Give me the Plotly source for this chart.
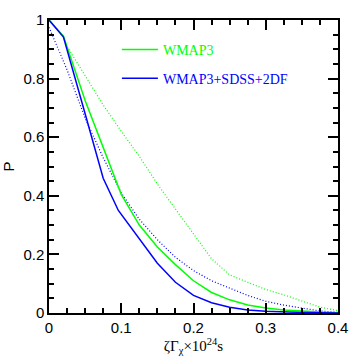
import plotly.graph_objects as go

# zeta*Gamma_chi x 1e24 s
x_green_solid = [0, 0.02, 0.05, 0.075, 0.1, 0.125, 0.15, 0.175, 0.2, 0.225, 0.25, 0.275, 0.3, 0.325, 0.35, 0.375, 0.4]
p_green_solid = [1.0, 0.945, 0.725, 0.565, 0.405, 0.30, 0.225, 0.165, 0.11, 0.07, 0.045, 0.027, 0.017, 0.01, 0.006, 0.003, 0.001]

x_blue_solid = [0, 0.02, 0.05, 0.075, 0.096, 0.125, 0.15, 0.175, 0.2, 0.225, 0.25, 0.275, 0.3, 0.35, 0.4]
p_blue_solid = [1.0, 0.942, 0.68, 0.46, 0.35, 0.255, 0.17, 0.105, 0.06, 0.035, 0.02, 0.01, 0.006, 0.002, 0.0]

x_green_dot = [0, 0.02, 0.025, 0.05, 0.075, 0.1, 0.125, 0.15, 0.175, 0.2, 0.225, 0.25, 0.275, 0.3, 0.325, 0.35, 0.375, 0.4]
p_green_dot = [1.0, 0.945, 0.91, 0.81, 0.71, 0.62, 0.535, 0.44, 0.355, 0.27, 0.185, 0.13, 0.105, 0.08, 0.062, 0.04, 0.02, 0.008]

x_blue_dot = [0, 0.025, 0.05, 0.075, 0.1, 0.125, 0.15, 0.175, 0.2, 0.225, 0.25, 0.275, 0.3, 0.325, 0.35, 0.375, 0.4]
p_blue_dot = [0.975, 0.83, 0.665, 0.53, 0.41, 0.32, 0.25, 0.19, 0.145, 0.11, 0.085, 0.06, 0.04, 0.027, 0.017, 0.007, 0.002]

GREEN = "#00ff00"
BLUE = "#0000ff"

fig = go.Figure()
fig.add_trace(go.Scatter(x=x_green_dot, y=p_green_dot, mode="lines",
                         line=dict(color=GREEN, width=1.2, dash="1px,2px"), showlegend=False))
fig.add_trace(go.Scatter(x=x_blue_dot, y=p_blue_dot, mode="lines",
                         line=dict(color=BLUE, width=1.2, dash="1px,2px"), showlegend=False))
fig.add_trace(go.Scatter(x=x_green_solid, y=p_green_solid, mode="lines",
                         line=dict(color=GREEN, width=1.5),
                         name=f"<span style='color:{GREEN}'>WMAP3</span>", legend="legend"))
fig.add_trace(go.Scatter(x=x_blue_solid, y=p_blue_solid, mode="lines",
                         line=dict(color=BLUE, width=1.5),
                         name=f"<span style='color:{BLUE}'>WMAP3+SDSS+2DF</span>", legend="legend2"))

axis_common = dict(
    showgrid=False, zeroline=False, showline=True, linecolor="black", linewidth=1.5,
    mirror="allticks", ticks="inside", ticklen=10, tickwidth=2, tickcolor="black",
    automargin=False,
    tickfont=dict(family="Liberation Sans", size=15, color="black"),
)

fig.update_xaxes(range=[0, 0.4], dtick=0.1, tickformat="~g",
                 minor=dict(dtick=0.025, ticks="inside", ticklen=5, tickcolor="black", tickwidth=1.5),
                 title=dict(text="ζΓ<sub>χ</sub>×10<sup>24</sup>s", standoff=0,
                            font=dict(family="Liberation Serif", size=15, color="black")),
                 **axis_common)
fig.update_yaxes(range=[0, 1], dtick=0.2, tickformat="~g",
                 minor=dict(dtick=0.05, ticks="inside", ticklen=5, tickcolor="black", tickwidth=1.5),
                 title=dict(text="P", standoff=6,
                            font=dict(family="Liberation Sans", size=15, color="black")),
                 **axis_common)

legend_style = dict(font=dict(family="Liberation Serif", size=14), bgcolor="rgba(0,0,0,0)",
                    xanchor="left", yanchor="middle", itemwidth=36)
fig.update_layout(
    width=357, height=357,
    margin=dict(l=49, r=19, t=20, b=44),
    plot_bgcolor="white", paper_bgcolor="white",
    legend=dict(x=0.235, y=0.898, **legend_style),
    legend2=dict(x=0.235, y=0.8, **legend_style),
)

# the page has a default 8px body margin: drop it so the figure starts at the window corner
fig.write_html("out.html", post_script="document.body.style.margin = '0px';",
               config={"displayModeBar": False})
